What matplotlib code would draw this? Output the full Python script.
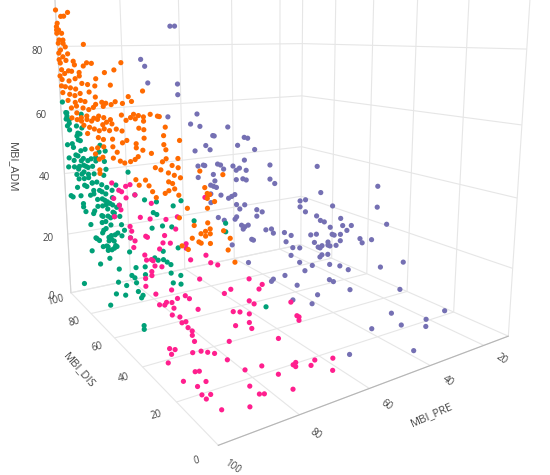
import matplotlib.pyplot as plt
from mpl_toolkits.mplot3d import proj3d

plt.rcParams['font.family'] = ['Open Sans', 'DejaVu Sans']

# MBI scores per cluster (pre-morbid, discharge, admission)
green_pre = [100, 100, 100, 100, 100, 100, 100, 100, 100, 100,
             100, 100, 100, 100, 100, 100, 100, 100, 100, 100,
             100, 100, 100, 100, 100, 100, 100, 100, 100, 100,
             100, 100, 100, 100, 100, 100, 100, 100, 100, 100,
             100, 100, 100, 100, 100, 100, 100, 100, 100, 100,
             100, 100, 100, 100, 100, 100, 100, 100, 100, 100,
             100, 100, 100, 100, 100, 100, 100, 100, 100, 100,
             100, 100, 100, 100, 100, 100, 100, 100, 100, 100,
             100, 100, 100, 100, 100, 100, 100, 89, 89, 100,
             100, 100, 100, 100, 100, 100, 100, 100, 100, 100,
             100, 100, 100, 100, 100, 100, 100, 100, 100, 100,
             100, 100, 100, 100, 100, 100, 100, 100, 100, 100,
             100, 100, 100, 100, 100, 100, 100, 100, 100, 100,
             58,
             100, 100, 100, 100, 100, 100, 100, 100, 100, 100,
             100, 100, 100, 100, 100, 100, 100, 100, 100, 100,
             100, 100, 100, 100, 100, 100, 100, 100, 100, 100,
             100, 100, 100, 100, 100, 100, 100, 100, 100, 100,
             100, 100, 100, 100, 100]
green_dis = [98, 94, 95, 92, 80, 94, 92, 94, 85, 84,
             85, 82, 95, 89, 82, 78, 94, 87, 80, 76,
             73, 69, 95, 89, 84, 78, 72, 62, 61, 82,
             76, 71, 63, 85, 80, 73, 69, 65, 61, 78,
             87, 72, 67, 62, 57, 92, 84, 75, 69, 65,
             61, 57, 52, 65, 82, 61, 72, 56, 54, 65,
             59, 52, 76, 66, 63, 59, 51, 45, 41, 35,
             30, 28, 19, 28, 31, 25, 20, 66, 61, 56,
             69, 62, 57, 55, 54, 15, 9, 16, 16, 85,
             76, 72, 69, 63, 61, 59, 57, 61, 66, 62,
             59, 55, 57, 62, 54, 49, 50, 45, 46, 43,
             42, 42, 41, 39, 38, 38, 38, 36, 36, 30,
             28, 25, 25, 23, 21, 20, 17, 16, 16, 21,
             49,
             95, 92, 90, 84, 82, 80, 85, 89, 82, 80,
             76, 69, 66, 65, 61, 85, 80, 76, 73, 65,
             57, 54, 80, 87, 72, 63, 59, 94, 69, 62,
             82, 80, 73, 66, 61, 57, 56, 63, 65, 71,
             59, 56, 49, 51, 45]
green_adm = [63, 60, 58, 58, 61, 59, 57, 56, 57, 55,
             54, 53, 50, 50, 50, 51, 46, 48, 48, 48,
             49, 49, 43, 44, 45, 46, 47, 50, 48, 43,
             44, 45, 46, 41, 42, 42, 43, 43, 43, 40,
             38, 40, 41, 41, 41, 34, 36, 38, 38, 39,
             39, 39, 40, 37, 33, 37, 34, 37, 39, 34,
             35, 37, 29, 32, 31, 33, 35, 50, 45, 45,
             43, 46, 47, 43, 39, 41, 42, 29, 29, 31,
             26, 26, 29, 28, 32, 49, 46, 42, 40, 8,
             21, 26, 19, 26, 28, 30, 27, 23, 25, 25,
             26, 18, 14, 9, 22, 19, 16, 23, 29, 23,
             26, 22, 20, 19, 20, 12, 11, 26, 28, 32,
             32, 33, 35, 33, 31, 29, 38, 32, 30, 33,
             3,
             60, 55, 51, 53, 55, 57, 48, 46, 47, 46,
             46, 50, 52, 54, 53, 44, 44, 43, 42, 41,
             43, 45, 40, 42, 39, 39, 39, 34, 36, 38,
             34, 32, 33, 34, 35, 37, 36, 33, 30, 26,
             29, 28, 34, 32, 33]

orange_pre = [100, 100, 100, 100, 100, 100, 100, 100, 100, 100,
              100, 100, 100, 100, 100, 100, 100, 100, 100, 100,
              100, 100, 100, 100, 100, 100, 100, 100, 100, 100,
              100, 100, 100, 100, 100, 100, 100, 100, 100, 100,
              100, 100, 100, 100, 100, 100, 100, 100, 100, 100,
              100, 100, 100, 100, 100, 100, 100, 100, 100, 100,
              100, 100, 100, 100, 100, 100, 100, 100, 100, 100,
              100, 100, 100, 100, 100, 100, 100, 100, 100, 100,
              100, 100, 100, 100, 100, 100, 100, 100, 100, 100,
              100, 100, 100, 100, 100, 100, 100, 100, 100, 100,
              100, 100, 100, 100, 100, 100, 100, 100, 100, 100,
              100, 100, 100, 100, 100, 100, 100, 100, 100, 100,
              100, 100, 100, 100, 100, 100, 100, 100, 100, 100,
              100, 100, 100, 100, 100, 100, 100, 100, 100, 100,
              100, 100, 100, 100, 100, 100, 100, 100, 100, 100,
              100, 100, 100, 100, 100, 100, 100, 100, 100, 100,
              100, 100, 100, 100, 100, 100, 100, 100, 100, 100,
              100, 100, 89, 100, 100, 100, 100, 100, 100, 100,
              100, 100, 89, 100, 100, 100, 100, 89, 89, 100,
              100, 100, 89]
orange_dis = [100, 95, 92, 88, 99, 100, 100, 98, 100, 95,
              94, 98, 99, 94, 92, 97, 99, 90, 95, 99,
              92, 85, 84, 75, 76, 73, 69, 98, 97, 90,
              99, 94, 87, 80, 80, 97, 90, 84, 78, 73,
              67, 66, 59, 52, 47, 55, 98, 94, 89, 84,
              97, 90, 85, 80, 72, 67, 92, 85, 80, 76,
              67, 62, 59, 52, 43, 41, 34, 55, 47, 89,
              84, 78, 73, 69, 61, 48, 40, 37, 34, 30,
              25, 75, 69, 65, 61, 56, 80, 42, 89, 84,
              84, 80, 75, 71, 66, 62, 59, 55, 45, 39,
              34, 26, 78, 73, 69, 65, 61, 57, 52, 48,
              37, 34, 75, 66, 62, 55, 48, 45, 39, 34,
              23, 22, 72, 67, 62, 55, 52, 69, 66, 63,
              55, 50, 47, 43, 40, 38, 39, 35, 30, 23,
              22, 22, 24, 15, 16, 19, 16, 28, 25, 21,
              18, 66, 66, 40, 34, 38, 32, 21, 19, 23,
              21, 18, 16, 30, 28, 15, 4, 3, 3, 2,
              0, 6, 17, 3, 12, 16, 9, 3, 2, 4,
              6, 2, 17, 10, 6, 15, 12, 14, 15, 7,
              4, 2, 12]
orange_adm = [91, 89, 89, 90, 87, 86, 85, 85, 84, 84,
              82, 82, 81, 81, 80, 79, 78, 78, 77, 76,
              76, 76, 75, 81, 75, 76, 76, 75, 73, 73,
              71, 72, 73, 73, 72, 70, 70, 71, 70, 70,
              70, 72, 74, 75, 77, 71, 68, 68, 68, 68,
              66, 66, 66, 67, 68, 67, 64, 64, 65, 65,
              65, 66, 66, 67, 69, 68, 71, 66, 67, 62,
              63, 63, 63, 64, 65, 64, 65, 65, 65, 66,
              66, 61, 61, 62, 62, 62, 59, 64, 59, 61,
              59, 60, 60, 60, 61, 60, 61, 61, 63, 64,
              64, 66, 58, 58, 58, 58, 59, 59, 60, 60,
              62, 62, 56, 56, 56, 57, 57, 58, 58, 60,
              62, 64, 52, 53, 54, 55, 54, 51, 50, 51,
              52, 52, 52, 53, 54, 55, 57, 57, 57, 60,
              59, 57, 56, 62, 58, 56, 56, 54, 54, 54,
              54, 47, 46, 49, 50, 48, 49, 52, 52, 49,
              50, 51, 50, 48, 47, 54, 54, 53, 52, 53,
              52, 57, 53, 50, 48, 45, 45, 47, 46, 45,
              44, 45, 40, 42, 42, 39, 39, 39, 36, 42,
              44, 43, 34]

pink_pre = [100, 100, 100, 100, 100, 100, 100, 100, 100, 100,
            100, 100, 100, 100, 100, 100, 100, 100, 100, 100,
            100, 100, 100, 100, 100, 100, 100, 100, 100, 100,
            100, 100, 100, 100, 100, 100, 100, 100, 100, 100,
            100, 100, 100, 100, 100, 100, 100, 100, 100, 100,
            100, 100, 100, 100, 100, 100, 100, 100, 100, 100,
            100, 100, 100, 100, 100, 89, 89, 89, 89, 89,
            89, 89, 89, 89, 89, 89, 89, 89, 79, 89,
            100, 100, 100, 100, 100, 100, 100, 100, 100, 100,
            100, 100, 100, 100, 100, 100, 89, 89, 89, 89,
            89, 89, 97, 89, 58, 58, 58, 58, 79, 79,
            79, 79, 77, 76, 71, 71, 79, 79]
pink_dis = [57, 52, 50, 47, 44, 56, 47, 41, 52, 51,
            56, 45, 44, 38, 32, 31, 23, 17, 34, 45,
            24, 18, 13, 4, 2, 43, 42, 35, 36, 35,
            32, 31, 36, 32, 32, 30, 26, 36, 30, 28,
            25, 24, 21, 21, 20, 18, 21, 17, 16, 14,
            13, 11, 14, 12, 8, 11, 10, 27, 25, 21,
            13, 11, 7, 4, 2, 20, 17, 14, 13, 12,
            10, 6, 6, 5, 4, 6, 6, 2, 17, 15,
            7, 4, 1, 23, 22, 20, 24, 11, 10, 8,
            5, 9, 16, 3, 7, 5, 16, 8, 6, 2,
            0, 6, 4, 1, 36, 33, 32, 32, 10, 4,
            3, 3, 0, 0, 0, 0, 10, 4]
pink_adm = [45, 44, 44, 46, 47, 41, 43, 45, 40, 39,
            36, 36, 35, 40, 41, 45, 43, 45, 36, 33,
            39, 42, 40, 52, 53, 31, 33, 36, 31, 30,
            31, 31, 25, 27, 28, 30, 31, 23, 23, 21,
            22, 23, 27, 24, 23, 26, 21, 22, 21, 22,
            21, 21, 28, 28, 27, 20, 19, 35, 37, 38,
            39, 37, 34, 40, 39, 31, 25, 27, 22, 19,
            23, 24, 22, 21, 27, 27, 32, 31, 25, 14,
            18, 19, 20, 12, 11, 13, 8, 16, 12, 13,
            12, 9, 7, 10, 8, 8, 9, 10, 7, 7,
            8, 2, 5, 14, 9, 6, 6, 5, 14, 10,
            10, 11, 11, 12, 11, 8, 5, 4]

purple_pre = [79, 79, 79, 79, 79, 79, 79, 79, 58, 58,
              58, 58, 58, 58, 58, 58, 58, 58, 58, 58,
              37, 58, 58, 58, 58, 58, 58, 58, 58, 58,
              58, 58, 58, 58, 58, 37, 37, 37, 58, 58,
              58, 58, 58, 58, 58, 58, 58, 58, 58, 58,
              58, 58, 58, 58, 58, 58, 58, 58, 58, 58,
              58, 58, 58, 37, 37, 37, 37, 37, 37, 37,
              37, 37, 37, 37, 37, 37, 37, 37, 37, 37,
              37, 37, 37, 37, 37, 37, 37, 37, 37, 37,
              37, 37, 37, 37, 37, 37, 37, 37, 58, 58,
              58, 37, 37, 37, 37, 37, 37, 37, 37, 37,
              37, 37, 37, 37, 37, 37, 37, 15, 58, 58,
              58, 37, 37, 37, 37, 58, 58, 37, 37, 58,
              37, 37, 37, 15, 42, 58, 58, 58, 58, 58,
              58, 58]
purple_dis = [65, 62, 87, 84, 82, 61, 61, 68, 92, 97,
              90, 71, 81, 80, 94, 86, 83, 61, 59, 65,
              90, 92, 88, 87, 78, 76, 74, 68, 66, 64,
              61, 60, 60, 66, 62, 80, 80, 77, 81, 80,
              81, 79, 83, 76, 71, 69, 67, 66, 64, 66,
              67, 63, 61, 62, 59, 54, 51, 54, 49, 46,
              45, 57, 56, 71, 67, 70, 62, 59, 62, 59,
              53, 51, 45, 53, 51, 49, 46, 41, 40, 36,
              38, 44, 47, 41, 41, 32, 31, 27, 25, 25,
              21, 66, 62, 54, 52, 51, 46, 43, 69, 59,
              46, 56, 53, 45, 50, 47, 50, 51, 47, 67,
              62, 55, 59, 46, 41, 37, 23, 37, 45, 39,
              33, 46, 44, 36, 52, 35, 26, 15, 18, 2,
              14, 5, 5, 19, 4, 10, 78, 74, 61, 83,
              92, 83]
purple_adm = [86, 86, 76, 74, 69, 70, 67, 60, 57, 53,
              53, 55, 51, 51, 44, 47, 46, 53, 53, 50,
              43, 39, 40, 40, 42, 42, 41, 43, 42, 43,
              46, 43, 40, 39, 40, 39, 34, 33, 38, 36,
              34, 34, 31, 32, 32, 33, 34, 31, 30, 27,
              26, 25, 25, 24, 26, 32, 32, 30, 27, 28,
              27, 22, 22, 17, 17, 14, 30, 31, 28, 27,
              43, 35, 32, 27, 26, 26, 25, 29, 27, 28,
              26, 23, 20, 24, 22, 25, 24, 26, 42, 36,
              32, 13, 14, 18, 17, 17, 19, 20, 17, 14,
              12, 20, 21, 23, 18, 19, 15, 14, 16, 10,
              9, 10, 7, 13, 14, 14, 19, 12, 13, 16,
              15, 8, 8, 8, 1, 10, 12, 15, 7, 14,
              5, 10, 8, 2, 3, 4, 24, 24, 32, 28,
              35, 34]

dis_ticks = [0, 20, 40, 60, 80, 100]
pre_ticks = [20, 40, 60, 80, 100]
adm_ticks = [0, 20, 40, 60, 80]

groups = [
    (green_pre, green_dis, green_adm, '#00a077'),
    (orange_pre, orange_dis, orange_adm, '#ff6a00'),
    (pink_pre, pink_dis, pink_adm, '#ff1f8e'),
    (purple_pre, purple_dis, purple_adm, '#7570b3'),
]

fig = plt.figure(figsize=(5.5, 4.75), dpi=100)
ax = fig.add_axes([-0.118, 0.065, 1.2, 1.2], projection='3d')
ax.set_proj_type('persp', focal_length=0.22)
ax.view_init(elev=10, azim=146.6)
ax.set_box_aspect((1.0, 0.93, 1.0), zoom=0.986)

for pre, dis, adm, col in groups:
    ax.scatter(dis, pre, adm, c=col, s=14, depthshade=False, edgecolors='none')

ax.set_xlim(0, 100)
ax.set_ylim(10, 100)
ax.set_zlim(0, 100)
ax.set_xticks(dis_ticks)
ax.set_yticks(pre_ticks)
ax.set_zticks(adm_ticks)
ax.set_xticklabels([])
ax.set_yticklabels([])

for axis in (ax.xaxis, ax.yaxis, ax.zaxis):
    axis.set_pane_color((1, 1, 1, 0))
    axis.pane.set_edgecolor('#cfcfcf')
    axis._axinfo['grid']['color'] = '#e6e6e6'
    axis._axinfo['grid']['linewidth'] = 0.8
    axis._axinfo['tick']['inward_factor'] = 0
    axis._axinfo['tick']['outward_factor'] = 0
ax.xaxis.line.set_color('none')
ax.yaxis.line.set_color('#b5b5b5')
ax.zaxis.line.set_color('#d5d5d5')

ax.zaxis.set_ticks_position('upper')
ax.zaxis.set_label_position('upper')
ax.tick_params(axis='z', labelsize=7, colors='#444444', pad=3)

# floor tick labels, set just outside the front edges of the box
M = ax.get_proj()
for t in dis_ticks:
    px, py, _ = proj3d.proj_transform(t, 105, -1.5, M)
    ax.text2D(px, py, str(t), transform=ax.transData, fontsize=7,
              color='#444444', rotation=15, ha='center', va='center')
for t in pre_ticks:
    px, py, _ = proj3d.proj_transform(-6, t, -1.5, M)
    ax.text2D(px, py, str(t), transform=ax.transData, fontsize=7,
              color='#444444', rotation=-35, ha='center', va='center')

# axis titles placed like the plotly scene
fig.text(79 / 550, 1 - 370 / 475, 'MBI_DIS', rotation=-49, fontsize=8,
         color='#444444', ha='center', va='center')
fig.text(432 / 550, 1 - 415 / 475, 'MBI_PRE', rotation=24, fontsize=8,
         color='#444444', ha='center', va='center')
fig.text(12 / 550, 1 - 167 / 475, 'MBI_ADM', rotation=-90, fontsize=8,
         color='#444444', ha='center', va='center')

fig.savefig('out.png', dpi=100)
